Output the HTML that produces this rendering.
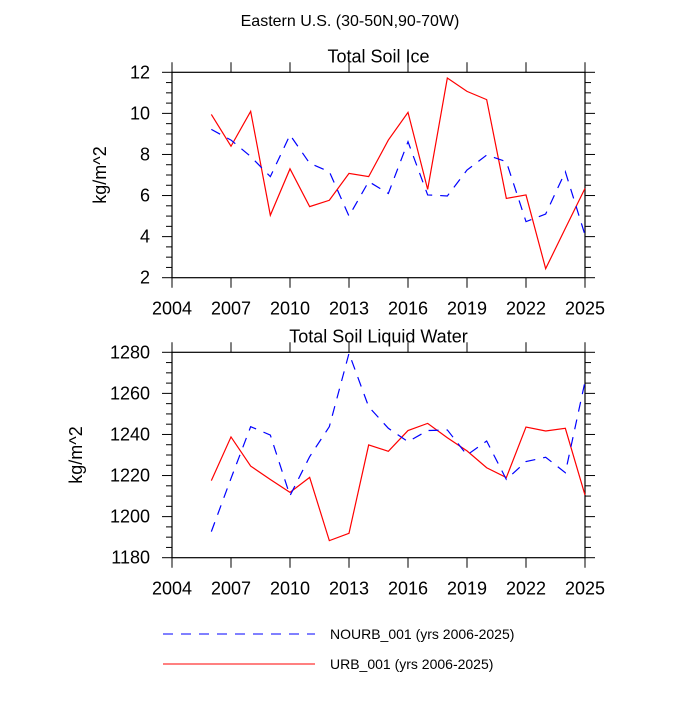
<!DOCTYPE html>
<html><head><meta charset="utf-8"><style>
html,body{margin:0;padding:0;background:#fff;}
svg text{font-family:"Liberation Sans",Arial,sans-serif;fill:#000;}
</style></head><body>
<svg id="chart" width="700" height="700" viewBox="0 0 700 700">
<text x="350" y="26" font-size="16" text-anchor="middle">Eastern U.S. (30-50N,90-70W)</text>
<g id="p1"></g>
<g id="p2"></g>
<g>
<line x1="163" y1="634" x2="315" y2="634" stroke="#0000ff" stroke-width="1" stroke-dasharray="10,8"/>
<text x="330" y="639" font-size="14">NOURB_001 (yrs 2006-2025)</text>
<line x1="163" y1="664" x2="315" y2="664" stroke="#ff0000" stroke-width="1"/>
<text x="330" y="669" font-size="14">URB_001 (yrs 2006-2025)</text>
</g>
</svg>
<script>
const years=[2006,2007,2008,2009,2010,2011,2012,2013,2014,2015,2016,2017,2018,2019,2020,2021,2022,2023,2024,2025];
const xTicks=[2004,2007,2010,2013,2016,2019,2022,2025];
const iceUrb=[9.95,8.4,10.1,5.04,7.3,5.46,5.77,7.08,6.92,8.7,10.05,6.3,11.72,11.07,10.67,5.86,6.03,2.44,4.4,6.35];
const iceNourb=[9.22,8.7,7.9,6.92,8.95,7.57,7.16,5.0,6.68,6.1,8.62,6.03,5.98,7.24,7.97,7.65,4.73,5.1,7.16,4.08];
const iceTicks=[2,4,6,8,10,12];
const liqUrb=[1217.5,1238.8,1224.6,1218.1,1211.8,1219.1,1188.3,1191.9,1234.9,1231.8,1241.9,1245.4,1238.4,1232,1223.8,1219,1243.6,1241.7,1243,1210.5];
const liqNourb=[1192.7,1218.6,1243.8,1239.7,1210.2,1229.2,1243.8,1279.5,1253.5,1243,1236.5,1241.9,1242.2,1230,1236.8,1218.1,1226.8,1228.9,1221.4,1265.7];
const liqTicks=[1180,1200,1220,1240,1260,1280];
const NS="http://www.w3.org/2000/svg";
function mk(p,tag,a){const e=document.createElementNS(NS,tag);for(const k in a)e.setAttribute(k,a[k]);p.appendChild(e);return e;}
function panel(g,top,bot,ymin,ymax,yt,minorStep,title,s1,s2,ylabX){
  const L=172,R=585;
  const xs=v=>L+(v-2004)/(2025-2004)*(R-L);
  const ys=v=>bot-(v-ymin)/(ymax-ymin)*(bot-top);
  let t=mk(g,'text',{x:(L+R)/2,y:top-10,'font-size':18,'text-anchor':'middle'});t.textContent=title;
  
  
  let r=mk(g,'rect',{x:L,y:top,width:R-L,height:bot-top,fill:'none',stroke:'#000','stroke-width':1.2});
  
  
  xTicks.forEach(v=>{const x=xs(v);
    mk(g,'line',{x1:x,y1:bot,x2:x,y2:bot+10,stroke:'#000'});
    mk(g,'line',{x1:x,y1:top,x2:x,y2:top-10,stroke:'#000'});
  });
  xTicks.forEach(v=>{const e=mk(g,'text',{x:xs(v),y:bot+37,'font-size':18,'text-anchor':'middle'});e.textContent=v;
    
    });
  for(let v=ymin;v<=ymax+1e-9;v+=minorStep){
    const maj=yt.some(a=>Math.abs(a-v)<1e-6);const len=maj?10:6;const y=ys(v);
    mk(g,'line',{x1:L,y1:y,x2:L-len,y2:y,stroke:'#000'});
    mk(g,'line',{x1:R,y1:y,x2:R+len,y2:y,stroke:'#000'});
  }
  yt.forEach(v=>{const e=mk(g,'text',{x:L-22,y:ys(v)+6,'font-size':18,'text-anchor':'end'});e.textContent=v;
    
    });
  const yl=mk(g,'text',{x:ylabX,y:(top+bot)/2,'font-size':18,'text-anchor':'middle',transform:`rotate(-90 ${ylabX} ${(top+bot)/2})`});yl.textContent='kg/m^2';
  
  
  const l1=mk(g,'polyline',{points:years.map((y,i)=>xs(y)+','+ys(s1[i])).join(' '),fill:'none',stroke:'#ff0000','stroke-width':1.2});
  
  
  const l2=mk(g,'polyline',{points:years.map((y,i)=>xs(y)+','+ys(s2[i])).join(' '),fill:'none',stroke:'#0000ff','stroke-width':1.2,'stroke-dasharray':'10,8'});
  
  
}
panel(document.getElementById('p1'),72.3,277.7,2,12,iceTicks,0.5,'Total Soil Ice',iceUrb,iceNourb,106);
panel(document.getElementById('p2'),352.3,557.7,1180,1280,liqTicks,5,'Total Soil Liquid Water',liqUrb,liqNourb,82);
</script>
</body></html>
